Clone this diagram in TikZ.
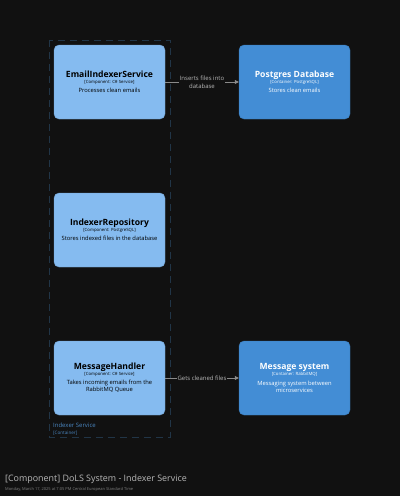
\documentclass[tikz,border=0pt]{standalone}
\usepackage{fontspec}
\setmainfont{Open Sans}
\usetikzlibrary{arrows.meta}
\definecolor{bgdark}{HTML}{111111}
\definecolor{compblue}{HTML}{85BBF0}
\definecolor{contblue}{HTML}{438DD5}
\definecolor{bordblue}{HTML}{213547}
\definecolor{labblue}{HTML}{4A86C0}
\definecolor{linegray}{HTML}{8A8A8A}
\definecolor{txtgray}{HTML}{B8B8B8}
\newcommand{\fsz}[2]{\fontsize{#1}{#2}\selectfont}
\begin{document}
\begin{tikzpicture}[x=1pt,y=-1pt,
    compbox/.style={draw=compblue!85!black,fill=compblue,rounded corners=5pt,line width=0.4pt,
      minimum width=111pt,minimum height=74pt,align=center,text=black,inner sep=2pt,
      font=\fsz{5.8}{7}},
    contbox/.style={compbox,draw=contblue!85!black,fill=contblue,text=white},
    rel/.style={draw=linegray,line width=0.5pt,-{Triangle[length=4pt,width=4pt]}},
    rellabel/.style={fill=bgdark,text=txtgray,align=center,inner sep=1pt,font=\fsz{6}{8.4}}]
  \fill[bgdark] (0,0) rectangle (400,496);
  \useasboundingbox (0,0) rectangle (400,496);
  % boundary
  \draw[bordblue,dash pattern=on 7pt off 5pt,line width=0.8pt] (49,40) rectangle (170,437);
  \node[anchor=west,text=labblue,inner sep=0pt,font=\fsz{6}{7}] (bname) at (53,425.7) {Indexer Service};
  \node[anchor=west,text=labblue,inner sep=0pt,font=\fsz{4.6}{5.5}] (btype) at (53,433.3) {[Container]};
  % components
  \node[compbox] (emailidx) at (109.5,82)
    {{\fsz{8.6}{10}\bfseries EmailIndexerService}\\[-1pt]
     {\fsz{4.3}{5}[Component: C\# Service]}\\[2.3pt]
     Processes clean emails};
  \node[compbox] (repo) at (109.5,230)
    {{\fsz{8.6}{10}\bfseries IndexerRepository}\\[-1pt]
     {\fsz{4.3}{5}[Component: PostgreSQL]}\\[2.3pt]
     Stores indexed files in the database};
  \node[compbox] (msghandler) at (109.5,378)
    {{\fsz{8.6}{10}\bfseries MessageHandler}\\[-1pt]
     {\fsz{4.3}{5}[Component: C\# Service]}\\[2.3pt]
     Takes incoming emails from the\\
     RabbitMQ Queue};
  % containers
  \node[contbox] (postgres) at (294.5,82)
    {{\fsz{8.6}{10}\bfseries Postgres Database}\\[-1pt]
     {\fsz{4.3}{5}[Container: PostgreSQL]}\\[2.3pt]
     Stores clean emails};
  \node[contbox] (msgsys) at (294.5,378)
    {{\fsz{8.6}{10}\bfseries Message system}\\[-1pt]
     {\fsz{4.3}{5}[Container: RabbitMQ]}\\[2.3pt]
     Messaging system between\\
     microservices};
  % relations
  \draw[rel] (emailidx) -- node[rellabel] {Inserts files into\\database} (postgres);
  \draw[rel] (msghandler) -- node[rellabel] {Gets cleaned files} (msgsys);
  % title
  \node[anchor=west,text=txtgray,inner sep=0pt,font=\fsz{8.9}{10}] (title) at (5,479)
    {[Component] DoLS System - Indexer Service};
  \node[anchor=west,text=gray,inner sep=0pt,font=\fsz{4}{5}] (stamp) at (5,489)
    {Monday, March 17, 2025 at 7:05 PM Central European Standard Time};
\end{tikzpicture}
\end{document}
